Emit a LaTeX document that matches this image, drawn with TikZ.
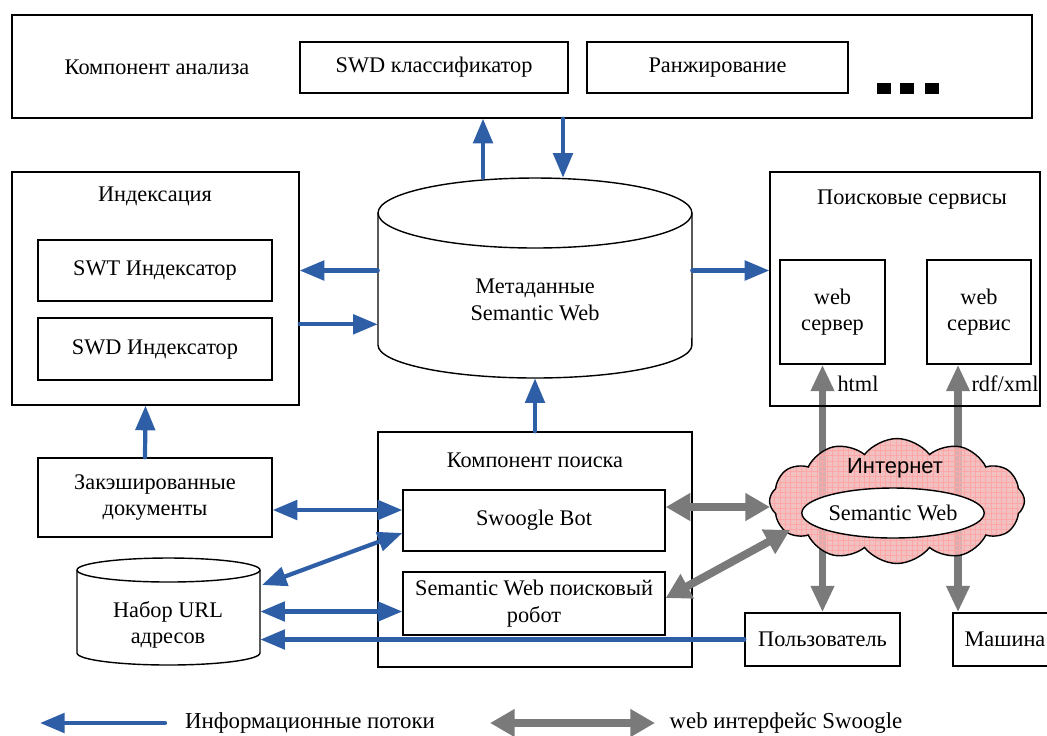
\documentclass[tikz,border=0pt]{standalone}
\usepackage{fontspec}
\setmainfont{Liberation Serif}
\newfontfamily\inetfont{Liberation Sans}
\usetikzlibrary{shapes,arrows.meta,positioning,calc,backgrounds,patterns}

\definecolor{flowblue}{RGB}{46,94,166}
\definecolor{webgray}{RGB}{122,122,122}
\definecolor{cloudpink}{RGB}{238,182,182}

\begin{document}
\begin{tikzpicture}[x=0.02cm, y=-0.02cm, font=\fontsize{12.7}{15}\selectfont]
  \tikzstyle{box}=[draw, line width=0.8pt, inner sep=2pt, align=center]
  \tikzstyle{hull}=[inner sep=0pt]
  \tikzstyle{flow}=[draw=flowblue, line width=2.4pt, line cap=round, -{Triangle[length=14pt,width=11pt]}]
  \tikzstyle{biflow}=[draw=flowblue, line width=2.4pt, {Triangle[length=14pt,width=11pt]}-{Triangle[length=14pt,width=11pt]}]
  \tikzstyle{webflow}=[draw=webgray, line width=4.5pt, {Triangle[length=14pt,width=15pt]}-{Triangle[length=14pt,width=15pt]}]
  \tikzstyle{webvert}=[draw=webgray, line width=4.5pt, {Triangle[length=15pt,width=12.5pt]}-{Triangle[length=15pt,width=12.5pt]}]

  \useasboundingbox (0,0) rectangle (1047,735);

  % Компонент анализа
  \node[box, minimum width=20.4cm, minimum height=2.06cm] (analysis) at (522,66.5) {};
  \node (analysistitle) at (157,67) {Компонент анализа};
  \node[box, minimum width=5.36cm, minimum height=1.02cm] (swdc) at (434,67.5) {SWD классификатор};
  \node[box, minimum width=5.22cm, minimum height=1.02cm] (rank) at (717.5,67.5) {Ранжирование};
  \foreach \x in {877,900,925}
    \fill (\x,83) rectangle ++(14,11);

  % Индексация
  \node[box, minimum width=5.74cm, minimum height=4.66cm] (idx) at (155.5,288.5) {};
  \node (idxtitle) at (155,196) {Индексация};
  \node[box, minimum width=4.68cm, minimum height=1.22cm] (swt) at (155,270.5) {SWT Индексатор};
  \node[box, minimum width=4.68cm, minimum height=1.24cm] (swdi) at (155,349) {SWD Индексатор};

  % Метаданные (цилиндр)
  \node[hull, minimum width=6.28cm, minimum height=4cm] (meta) at (535,278) {};
  \draw[line width=0.8pt, fill=white] (378,213) -- (378,345)
    arc[start angle=180, end angle=360, x radius=3.14cm, y radius=0.66cm] -- (692,213);
  \draw[line width=0.8pt, fill=white] (535,213) ellipse [x radius=3.14cm, y radius=0.7cm];
  \node[align=center] (metatext) at (535,300) {Метаданные\\Semantic Web};

  % Поисковые сервисы
  \node[box, minimum width=5.4cm, minimum height=4.68cm] (svc) at (905,289) {};
  \node (svctitle) at (912,200) {Поисковые сервисы};
  \node[box, minimum width=2.1cm, minimum height=2.08cm] (websrv) at (832.5,312) {web\\сервер};
  \node[box, minimum width=2.08cm, minimum height=2.08cm] (webssvc) at (979,312) {web\\сервис};
  \node (htmllbl) at (858,384) {html};
  \node (rdflbl) at (1005,384) {rdf/xml};

  % Компонент поиска
  \node[box, minimum width=6.28cm, minimum height=4.7cm] (search) at (535,549.5) {};
  \node (searchtitle) at (535,460) {Компонент поиска};
  \node[box, minimum width=5.24cm, minimum height=1.22cm] (bot) at (534,520.5) {Swoogle Bot};
  \node[box, minimum width=5.24cm, minimum height=1.26cm] (robot) at (534,603.5) {Semantic Web поисковый\\робот};

  \node[box, minimum width=4.68cm, minimum height=1.58cm] (cache) at (155,497.5) {Закэшированные\\документы};

  % Набор URL адресов (цилиндр)
  \node[hull, minimum width=3.66cm, minimum height=2.14cm] (urls) at (168.5,611.5) {};
  \draw[line width=0.8pt, fill=white] (77,570) -- (77,653)
    arc[start angle=180, end angle=360, x radius=1.83cm, y radius=0.24cm] -- (260,570);
  \draw[line width=0.8pt, fill=white] (168.5,570) ellipse [x radius=1.83cm, y radius=0.24cm];
  \node[align=center] (urlstext) at (168,625) {Набор URL\\адресов};

  \node[box, minimum width=3.1cm, minimum height=1.06cm] (user) at (822.5,639.5) {Пользователь};
  \node[box, minimum width=2.08cm, minimum height=1.06cm] (machine) at (1005,639.5) {Машина};

  % Интернет
  \node[cloud, draw, line width=0.8pt, cloud puffs=12, cloud puff arc=105, aspect=2.1,
        minimum width=5.1cm, minimum height=2.5cm,
        preaction={fill=cloudpink, fill opacity=0.85}, pattern=grid, pattern color=red!35]
        (inet) at (897,501) {};
  \node[font=\inetfont\fontsize{12.5}{14}\selectfont] (inettitle) at (895,468) {Интернет};
  \node[ellipse, draw, line width=0.8pt, fill=white, minimum width=3.4cm, minimum height=1cm, inner sep=0pt]
        (sw) at (893,513) {Semantic Web};
  \coordinate (inetw) at (770,507);
  \coordinate (inetsw) at (790,530);
  \coordinate (urlsne) at (262,585);

  % Информационные потоки
  \draw[flow] ([xshift=-1.04cm]meta.north) -- ([xshift=-1.04cm]meta.north |- analysis.south);
  \draw[flow] ([xshift=0.56cm]meta.north |- analysis.south) -- ([xshift=0.56cm]meta.north);
  \draw[flow] (search.north) -- (meta.south);
  \draw[flow] (meta.west |- swt.east) -- (idx.east |- swt.east);
  \draw[flow] ([yshift=-0.14cm]idx.east |- swdi.north) -- ([yshift=-0.14cm]meta.west |- swdi.north);
  \draw[flow] (meta.east |- swt.east) -- (svc.west |- swt.east);
  \draw[flow] ([xshift=-0.2cm]cache.north) -- ([xshift=-0.2cm]idx.south);
  \draw[biflow] ([yshift=-0.25cm]cache.east) -- ([yshift=-0.25cm]cache.east -| bot.west);
  \draw[biflow] ([yshift=-0.25cm]bot.west) -- (urlsne);
  \draw[biflow] (urls.east) -- (urls.east -| robot.west);
  \draw[flow] (user.west) -- (user.west -| urls.east);

  % web интерфейс
  \draw[webflow] ([yshift=0.27cm]bot.east) -- (inetw);
  \draw[webflow] ([yshift=0.11cm]robot.east) -- (inetsw);
  \begin{scope}[on background layer]
    \draw[webvert] (user.north |- websrv.south) -- (user.north);
    \draw[webvert] ([xshift=-0.42cm]webssvc.south) -- ([xshift=-0.42cm]webssvc.south |- machine.north);
  \end{scope}

  % Легенда
  \coordinate (leg1a) at (165,723);
  \coordinate (leg1b) at (40,723);
  \draw[flow] (leg1a) -- (leg1b);
  \node[font=\fontsize{13}{15}\selectfont] (leg1) at (310,723) {Информационные потоки};
  \coordinate (leg2a) at (490,723);
  \coordinate (leg2b) at (655,723);
  \draw[webflow] (leg2a) -- (leg2b);
  \node[font=\fontsize{13}{15}\selectfont] (leg2) at (786,723) {web интерфейс Swoogle};
\end{tikzpicture}
\end{document}
